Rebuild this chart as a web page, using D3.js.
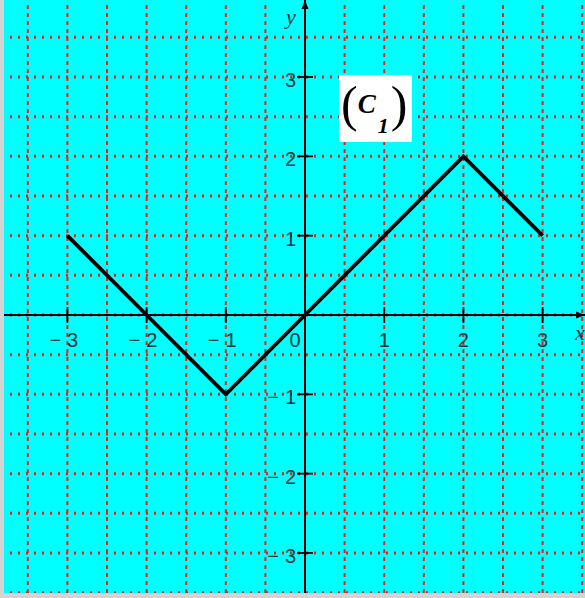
<!DOCTYPE html>
<html><head><meta charset="utf-8">
<script src="https://cdn.jsdelivr.net/npm/d3@7"></script>
<style>html,body{margin:0;padding:0;background:#fff;}svg{display:block;}</style>
</head><body>
<script>
// Data
const xs = [-3, -2, -1, 0, 2, 3];
const ys = [1, 0, -1, 0, 2, 1];
const xTicks = [-3, -2, -1, 1, 2, 3];
const yTicks = [3, 2, 1, -1, -2, -3];
const gridSteps = [-3.5, -3, -2.5, -2, -1.5, -1, -0.5, 0, 0.5, 1, 1.5, 2, 2.5, 3, 3.5];
const curveLabel = "C";
const curveSub = "1";

const W = 585, H = 598;
const svg = d3.select("body").append("svg").attr("width", W).attr("height", H);

const x = d3.scaleLinear().domain([-3, 3]).range([67.4, 542.6]);
const y = d3.scaleLinear().domain([-3, 3]).range([553, 77]);

// background
svg.append("rect").attr("x", 0).attr("y", 0).attr("width", W).attr("height", H).attr("fill", "#d4d4d4");
svg.append("rect").attr("x", 4).attr("y", 0).attr("width", W - 4).attr("height", 593).attr("fill", "#00ffff");

const plot = svg.append("g");
plot.append("clipPath").attr("id", "clip").append("rect").attr("x", 4).attr("y", 0).attr("width", W - 4).attr("height", 593);
const g = plot.append("g").attr("clip-path", "url(#clip)");

// grid
g.selectAll("line.vg").data(gridSteps).join("line").attr("class", "vg")
  .attr("x1", d => x(d)).attr("x2", d => x(d)).attr("y1", 5).attr("y2", 593)
  .attr("stroke", "#f01c1c").attr("stroke-width", 2).attr("stroke-dasharray", "4,4");
g.selectAll("line.hg").data(gridSteps).join("line").attr("class", "hg")
  .attr("y1", d => y(d)).attr("y2", d => y(d)).attr("x1", 10).attr("x2", W)
  .attr("stroke", "#f01c1c").attr("stroke-width", 3).attr("stroke-dasharray", "2,6");

// axes
const x0 = x(0), y0 = y(0);
g.append("line").attr("x1", 4).attr("x2", W).attr("y1", y0).attr("y2", y0).attr("stroke", "#000").attr("stroke-width", 2);
g.append("line").attr("x1", x0).attr("x2", x0).attr("y1", 0).attr("y2", 593).attr("stroke", "#000").attr("stroke-width", 2);
// arrows
g.append("path").attr("d", `M${x0},0 L${x0 - 3.5},9 L${x0 + 3.5},9 Z`).attr("fill", "#000");
g.append("path").attr("d", `M${W},${y0} L${W - 9},${y0 - 3.5} L${W - 9},${y0 + 3.5} Z`).attr("fill", "#000");

// ticks
g.selectAll("line.xt").data(xTicks).join("line").attr("class", "xt")
  .attr("x1", d => x(d)).attr("x2", d => x(d)).attr("y1", y0 - 8).attr("y2", y0 + 8)
  .attr("stroke", "#000").attr("stroke-width", 1.8);
g.selectAll("line.yt").data(yTicks).join("line").attr("class", "yt")
  .attr("y1", d => y(d)).attr("y2", d => y(d)).attr("x1", x0 - 8).attr("x2", x0 + 8)
  .attr("stroke", "#000").attr("stroke-width", 1.8);

// tick labels
const labColor = "#0a3a42";
const FS = 20;
const lf = "Liberation Sans, Arial, sans-serif";
function addLabel(sel) {
  sel.each(function(d) {
    const t = d3.select(this);
    if (d < 0) {
      t.append("tspan").text("\u2212");
      t.append("tspan").attr("dx", 6).text(Math.abs(d));
    } else {
      t.text(d);
    }
  });
}
g.selectAll("text.xl").data(xTicks).join("text").attr("class", "xl")
  .attr("x", d => d < 0 ? x(d) - 18 : x(d)).attr("y", y0 + 32)
  .attr("text-anchor", d => d < 0 ? "start" : "middle")
  .attr("font-family", lf).attr("font-size", FS)
  .attr("fill", labColor).call(addLabel);
g.append("text").attr("x", x0 - 10).attr("y", y0 + 32).attr("text-anchor", "middle")
  .attr("font-family", lf).attr("font-size", FS)
  .attr("fill", labColor).text("0");
g.selectAll("text.yl").data(yTicks).join("text").attr("class", "yl")
  .attr("x", x0 - 9).attr("y", d => y(d) + 10)
  .attr("text-anchor", "end")
  .attr("font-family", lf).attr("font-size", FS)
  .attr("fill", labColor).call(addLabel);

// axis names
g.append("text").attr("x", 291).attr("y", 24).attr("text-anchor", "middle")
  .attr("font-family", "Liberation Serif, Times New Roman, serif").attr("font-style", "italic")
  .attr("font-size", 22).attr("fill", labColor).text("y");
g.append("text").attr("x", 575).attr("y", 340)
  .attr("font-family", "Liberation Serif, Times New Roman, serif").attr("font-style", "italic")
  .attr("font-size", 22).attr("fill", labColor).text("x");

// curve
const pts = xs.map((d, i) => [d, ys[i]]);
g.append("path").datum(pts)
  .attr("d", d3.line().x(d => x(d[0])).y(d => y(d[1])))
  .attr("fill", "none").attr("stroke", "#000").attr("stroke-width", 3.8)
  .attr("stroke-linejoin", "miter");

// label box
g.append("rect").attr("x", 339).attr("y", 75).attr("width", 73).attr("height", 67).attr("fill", "#fff");
const sf = "Liberation Serif, Times New Roman, serif";
const lt = g.append("text").attr("x", 341).attr("y", 121).attr("font-family", sf).attr("fill", "#000");
lt.append("tspan").attr("font-size", 50).text("(");
lt.append("tspan").attr("font-size", 27).attr("font-style", "italic").attr("font-weight", "bold")
  .attr("dx", 0).attr("dy", -8).text(curveLabel);
lt.append("tspan").attr("font-size", 22).attr("font-style", "italic").attr("font-weight", "bold")
  .attr("dx", 2).attr("dy", 20).text(curveSub);
lt.append("tspan").attr("font-size", 50).attr("dx", 2).attr("dy", -12).text(")");
</script>
</body></html>
